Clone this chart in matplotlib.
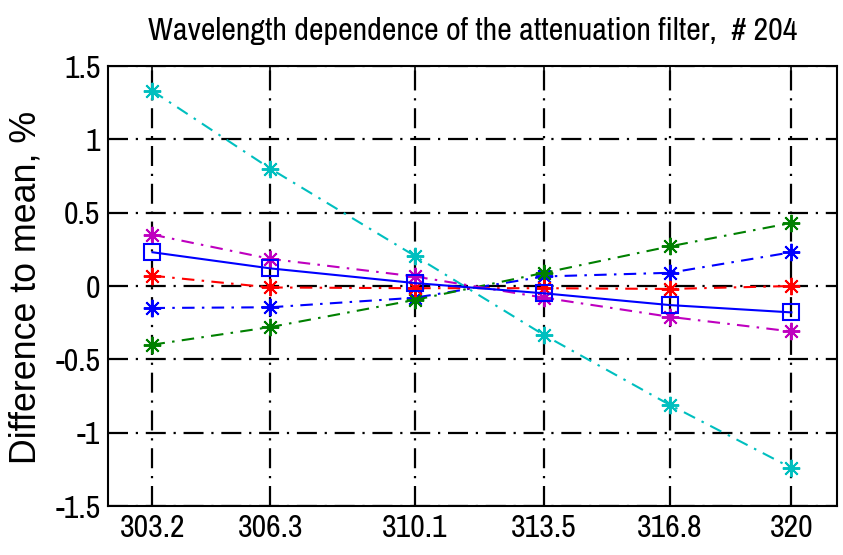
import matplotlib
matplotlib.use("Agg")
import matplotlib.pyplot as plt
from matplotlib import font_manager
from matplotlib.textpath import TextPath
from matplotlib.font_manager import FontProperties

wavelength = [303.2, 306.3, 310.1, 313.5, 316.8, 320]
xtick_labels = ["303.2", "306.3", "310.1", "313.5", "316.8", "320"]
yticks = [-1.5, -1, -0.5, 0, 0.5, 1, 1.5]
ytick_labels = ["-1.5", "-1", "-0.5", "0", "0.5", "1", "1.5"]

s_blue = [-0.15, -0.145, -0.08, 0.065, 0.09, 0.23]
s_green = [-0.40, -0.28, -0.095, 0.09, 0.27, 0.43]
s_red = [0.07, -0.01, -0.015, -0.015, -0.02, 0.0]
s_cyan = [1.33, 0.80, 0.205, -0.335, -0.81, -1.24]
s_magenta = [0.35, 0.185, 0.065, -0.08, -0.21, -0.31]
s_mean = [0.23, 0.12, 0.02, -0.05, -0.13, -0.18]

title = "Wavelength dependence of the attenuation filter,  # 204"
ylabel = "Difference to mean, %"

names = {f.name for f in font_manager.fontManager.ttflist}
FONT = "Archivo Narrow" if "Archivo Narrow" in names else "Liberation Sans"
YFONT = "Liberation Sans"
plt.rcParams['font.family'] = [FONT, "DejaVu Sans"]


def size_for_width(text, width_px, fam):
    w = TextPath((0, 0), text, prop=FontProperties(family=fam, size=100)).get_extents().width
    return 100 * (width_px * 0.72) / w


tick_size = size_for_width("303.2", 63, FONT)
title_size = size_for_width(title, 650, FONT)
ylab_size = size_for_width(ylabel, 349, YFONT)

fig = plt.figure(figsize=(8.43, 5.55), dpi=100)
ax = fig.add_axes([108/843, 1 - 506/555, (837-108)/843, (506-66)/555])

dd = (0, (6, 3.5, 1.2, 3.5))
series = [
    (s_blue, (0, 0, 1)),
    (s_green, (0, 0.5, 0)),
    (s_red, (1, 0, 0)),
    (s_cyan, (0, 0.75, 0.75)),
    (s_magenta, (0.75, 0, 0.75)),
]
for vals, col in series:
    ax.plot(wavelength, vals, color=col, linestyle=dd, linewidth=1.5,
            marker=(8, 2, 0), markersize=12.5, markeredgewidth=1.4, zorder=3)
ax.plot(wavelength, s_mean, color=(0, 0, 1), linestyle='-', linewidth=1.5,
        marker='s', markersize=11.5, markerfacecolor='none', markeredgewidth=1.5, zorder=4)

ax.set_xlim(302.03, 321.2)
ax.set_ylim(-1.5, 1.5)
ax.set_xticks(wavelength)
ax.set_xticklabels(xtick_labels)
ax.set_yticks(yticks)
ax.set_yticklabels(ytick_labels)
ax.grid(True, color='black', linestyle=(0, (9, 3.5, 1, 3.5)), linewidth=1.6, zorder=1)
ax.tick_params(direction='in', length=6, width=1.2, top=True, right=True,
               labelsize=tick_size)
ax.tick_params(axis='y', pad=5.5)
ax.tick_params(axis='x', pad=6)
for sp in ax.spines.values():
    sp.set_linewidth(1.5)
ax.set_title(title, fontsize=title_size, pad=18.5)
ax.set_ylabel(ylabel, fontsize=ylab_size, family=[YFONT, "DejaVu Sans"])
ax.yaxis.set_label_coords(-0.088, 0.497)

fig.savefig("out.png", dpi=100)
